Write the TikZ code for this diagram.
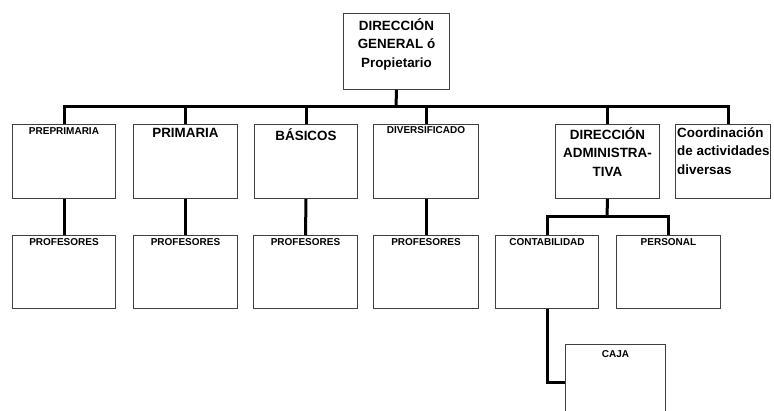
\documentclass[tikz,border=0pt]{standalone}
\usepackage{fontspec}
\setmainfont{Liberation Sans}
\begin{document}
\begin{tikzpicture}[x=1pt,y=-1pt,
  box/.style={draw=black!75, line width=1pt, fill=white, rectangle, inner sep=0pt,
    anchor=north west, minimum width=104pt, minimum height=74pt},
  small/.style={font=\fontsize{10}{12}\selectfont\bfseries, align=center, inner sep=0pt},
  big/.style={font=\fontsize{13.4}{18.5}\selectfont\bfseries, align=center, inner sep=0pt},
  conn/.style={line width=3pt, black}]
\useasboundingbox (0,0) rectangle (774,411);
% boxes
\node[box, minimum width=106pt, minimum height=76pt] (top) at (343,13) {};
\node[big, anchor=north] (ttop) at ([yshift=-5pt]top.north) {DIRECCIÓN\\GENERAL ó\\Propietario};

\node[box, minimum width=103pt] (b1) at (12,124) {};
\node[box] (b2) at (133,124) {};
\node[box, minimum width=103pt] (b3) at (254,124) {};
\node[box, minimum width=105pt] (b4) at (373,124) {};
\node[box] (b5) at (555,124) {};
\node[box, minimum width=95pt] (b6) at (675,124) {};

\node[small, anchor=north] (t1) at ([yshift=-3pt]b1.north) {PREPRIMARIA};
\node[big, anchor=north] (t2) at ([yshift=-4pt]b2.north) {PRIMARIA};
\node[big, anchor=north] (t3) at ([yshift=-4pt]b3.north) {BÁSICOS};
\node[small, anchor=north] (t4) at ([yshift=-2pt]b4.north) {DIVERSIFICADO};
\node[big, anchor=north] (t5) at ([yshift=-3pt]b5.north) {DIRECCIÓN\\ADMINISTRA-\\TIVA};
\node[big, anchor=north west, align=left] (t6) at ([xshift=2pt,yshift=-3pt]b6.north west) {Coordinación\\de actividades\\diversas};

\node[box, minimum width=103pt, minimum height=73pt] (p1) at (12,235) {};
\node[box, minimum height=73pt] (p2) at (133,235) {};
\node[box, minimum height=73pt] (p3) at (253,235) {};
\node[box, minimum width=105pt, minimum height=73pt] (p4) at (373,235) {};
\node[box, minimum width=103pt, minimum height=73pt] (cont) at (495,235) {};
\node[box, minimum height=73pt] (pers) at (616,235) {};
\node[box, minimum width=100pt, minimum height=76pt] (caja) at (565,344) {};

\node[small, anchor=north] (q1) at ([yshift=-3pt]p1.north) {PROFESORES};
\node[small, anchor=north] (q2) at ([yshift=-3pt]p2.north) {PROFESORES};
\node[small, anchor=north] (q3) at ([yshift=-3pt]p3.north) {PROFESORES};
\node[small, anchor=north] (q4) at ([yshift=-3pt]p4.north) {PROFESORES};
\node[small, anchor=north] (q5) at ([yshift=-3pt]cont.north) {CONTABILIDAD};
\node[small, anchor=north] (q6) at ([yshift=-3pt]pers.north) {PERSONAL};
\node[small, anchor=north] (q7) at ([yshift=-6pt]caja.north) {CAJA};

% connectors
\coordinate (bus) at (396,107);
\coordinate (b6in) at ([xshift=5.5pt]b6.north);
\draw[conn] (top.south) -- (bus);
\draw[conn] (b1.north) |- (b6in |- bus) -- (b6in);
\draw[conn] (b2.north) -- (b2.north |- bus);
\draw[conn] (b3.north) -- (b3.north |- bus);
\draw[conn] (b4.north) -- (b4.north |- bus);
\draw[conn] (b5.north) -- (b5.north |- bus);
\draw[conn] (b1.south) -- (p1.north);
\draw[conn] (b2.south) -- (p2.north);
\draw[conn] (b3.south) -- (p3.north);
\draw[conn] (b4.south) -- (p4.north);
\coordinate (abus) at (607,217);
\draw[conn] (b5.south) -- (abus);
\draw[conn] (cont.north) |- (abus) -| (pers.north);
\draw[conn] (cont.south) |- (caja.west);
\end{tikzpicture}
\end{document}
